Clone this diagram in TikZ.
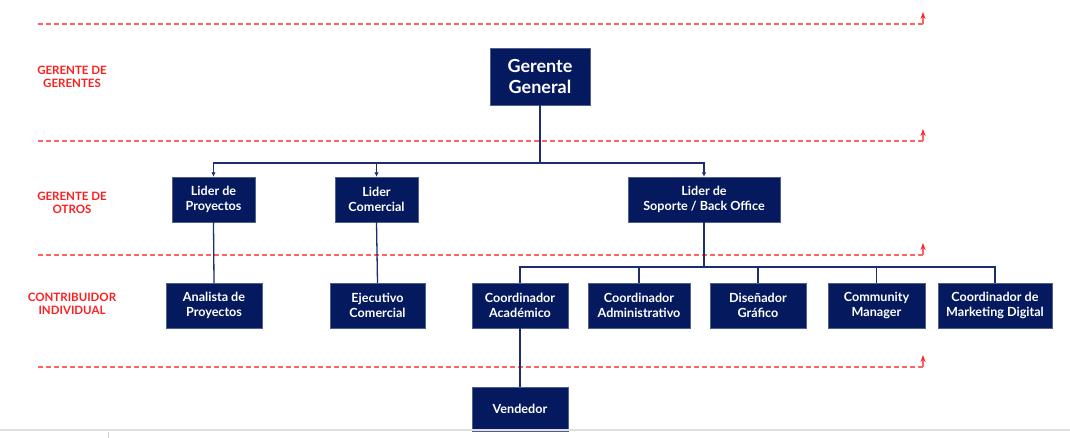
\documentclass[tikz,border=0pt]{standalone}
\usepackage{fontspec}
\setmainfont{Lato}
\usetikzlibrary{arrows.meta}
\definecolor{navy}{RGB}{5,26,94}
\definecolor{linkc}{RGB}{30,45,110}
\definecolor{lvlred}{RGB}{255,30,30}
\definecolor{dashred}{RGB}{255,100,100}
\tikzset{
  box/.style={draw=navy!70, fill=navy, text=white, align=center, inner sep=1pt,
    font=\fontsize{12.6}{14.5}\selectfont\bfseries, minimum height=45pt},
  link/.style={draw=linkc, line width=1.3pt},
  tiplink/.style={link, -{Latex[length=4.5pt,width=4.5pt]}},
  lvl/.style={text=lvlred, align=center, font=\fontsize{11.5}{13}\selectfont\bfseries},
  sep/.style={draw=dashred, line width=1.1pt, dash pattern=on 5pt off 3pt},
  septip/.style={draw=dashred, line width=1.1pt, -{Stealth[length=7pt,width=5pt,color=red!85]}},
}
\begin{document}
\begin{tikzpicture}[x=1pt,y=-1pt]
\useasboundingbox (0,0) rectangle (1070,438);
% level separators
\foreach \yy/\nm in {24/a,141/b,255/c,367/d}{
  \coordinate (s\nm1) at (38,\yy);
  \coordinate (s\nm2) at (923,\yy);
  \coordinate (s\nm3) at (923,\yy-12);
  \draw[sep] (s\nm1) -- (s\nm2);
  \draw[septip] (s\nm2) -- (s\nm3);
}
% level labels
\node[lvl] (l1) at (72,77) {GERENTE DE\\GERENTES};
\node[lvl] (l2) at (72,203) {GERENTE DE\\OTROS};
\node[lvl] (l3) at (72,304) {CONTRIBUIDOR\\INDIVIDUAL};
% boxes
\node[box, minimum width=100pt, minimum height=57pt, font=\fontsize{18}{21}\selectfont\bfseries] (gg) at (540,76.5) {Gerente\\General};
\node[box, minimum width=83pt] (lp) at (213.5,199.5) {Lider de\\Proyectos};
\node[box, minimum width=83pt] (lc) at (376.5,199.5) {Lider\\Comercial};
\node[box, minimum width=152pt] (ls) at (704,199.5) {Lider de\\Soporte / Back Office};
\node[box, minimum width=96pt] (ap) at (214,305.5) {Analista de\\Proyectos};
\node[box, minimum width=95pt] (ec) at (377.5,305.5) {Ejecutivo\\Comercial};
\node[box, minimum width=96pt] (ca) at (520,305.5) {Coordinador\\Académico};
\node[box, minimum width=102pt] (cad) at (639,305.5) {Coordinador\\Administrativo};
\node[box, minimum width=96pt] (dg) at (758,305.5) {Diseñador\\Gráfico};
\node[box, minimum width=97pt] (cm) at (876.5,305.5) {Community\\Manager};
\node[box, minimum width=114pt] (cmd) at (995,305.5) {Coordinador de\\Marketing Digital};
\node[box, minimum width=96pt, minimum height=44pt] (ve) at (520,409) {Vendedor};
% connectors
\coordinate (bus1) at (540,163);
\coordinate (bus2) at (704,267);
\draw[link] (gg.south) -- (bus1);
\draw[tiplink] (bus1) -| (lp.north);
\draw[tiplink] (bus1) -| (lc.north);
\draw[tiplink] (bus1) -| (ls.north);
\draw[link] (lp.south) -- (ap.north);
\draw[link] (lc.south) -- (ec.north);
\draw[link] (ls.south) -- (bus2);
\foreach \n in {ca,cad,dg,cm,cmd}{ \draw[link] (bus2) -| (\n.north); }
\draw[link] (ca.south) -- (ve.north);
% bottom rule
\coordinate (r1) at (0,430);
\coordinate (r2) at (1070,430);
\coordinate (t1) at (108,432);
\coordinate (t2) at (108,438);
\draw[gray!25, line width=1.2pt] (r1) -- (r2);
\draw[gray!40, line width=0.6pt] (t1) -- (t2);
\end{tikzpicture}
\end{document}
